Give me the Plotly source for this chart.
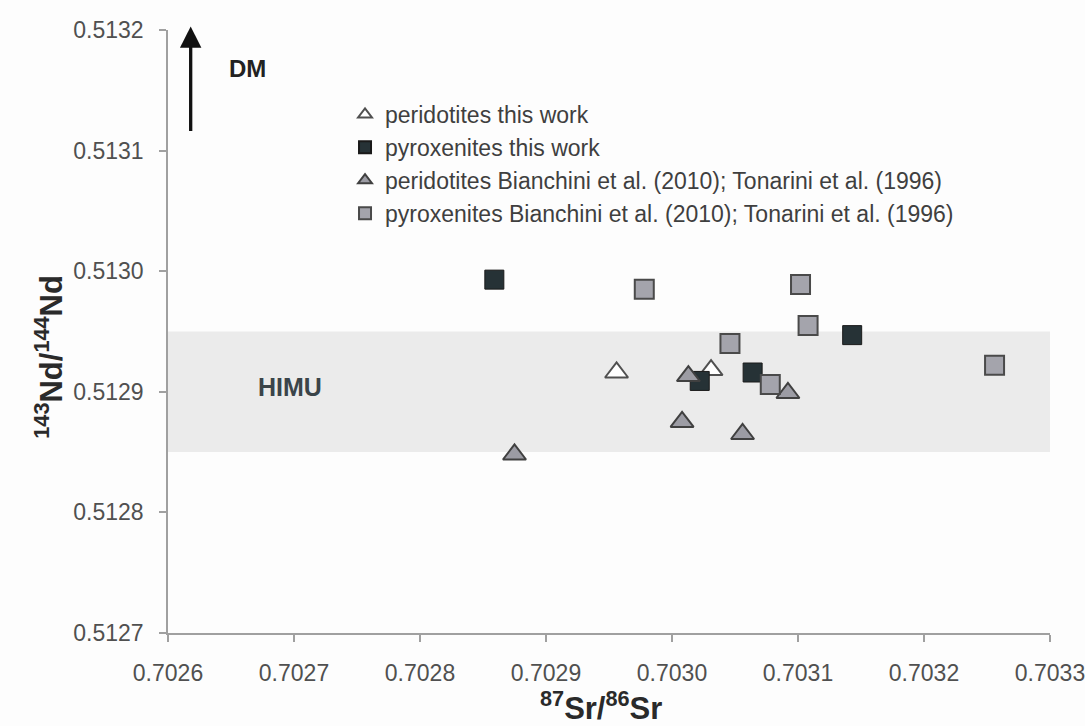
import plotly.graph_objects as go

# peridotites this work (white triangles)
per_tw_x = [0.702956, 0.703031]
per_tw_y = [0.512916, 0.512918]
# pyroxenites this work (black squares)
pyr_tw_x = [0.702859, 0.703143, 0.703022, 0.703064]
pyr_tw_y = [0.512993, 0.512947, 0.512909, 0.512916]
# peridotites literature (grey triangles)
per_lit_x = [0.703013, 0.703008, 0.703056, 0.703092, 0.702875]
per_lit_y = [0.512913, 0.512875, 0.512865, 0.512899, 0.512848]
# pyroxenites literature (grey squares)
pyr_lit_x = [0.702978, 0.703102, 0.703108, 0.703046, 0.703078, 0.703256]
pyr_lit_y = [0.512985, 0.512989, 0.512955, 0.512940, 0.512906, 0.512922]

himu_range = [0.51285, 0.51295]
x_ticks = [0.7026, 0.7027, 0.7028, 0.7029, 0.7030, 0.7031, 0.7032, 0.7033]
y_ticks = [0.5127, 0.5128, 0.5129, 0.5130, 0.5131, 0.5132]

FONT = "Liberation Sans, Arial, sans-serif"

fig = go.Figure()

fig.add_trace(go.Scatter(x=per_tw_x, y=per_tw_y, mode="markers",
    name="peridotites this work",
    marker=dict(symbol="triangle-up", size=20, color="white",
                line=dict(color="#505050", width=2))))
fig.add_trace(go.Scatter(x=pyr_tw_x, y=pyr_tw_y, mode="markers",
    name="pyroxenites this work",
    marker=dict(symbol="square", size=19, color="#263236",
                line=dict(color="#1a1a1a", width=1))))
fig.add_trace(go.Scatter(x=per_lit_x, y=per_lit_y, mode="markers",
    name="peridotites Bianchini et al. (2010); Tonarini et al. (1996)",
    marker=dict(symbol="triangle-up", size=20, color="#9c9ca4",
                line=dict(color="#404040", width=2))))
fig.add_trace(go.Scatter(x=pyr_lit_x, y=pyr_lit_y, mode="markers",
    name="pyroxenites Bianchini et al. (2010); Tonarini et al. (1996)",
    marker=dict(symbol="square", size=19, color="#a4a4ac",
                line=dict(color="#4a4a4a", width=2))))

# HIMU band
fig.add_shape(type="rect", xref="paper", yref="y", x0=0, x1=1,
              y0=himu_range[0], y1=himu_range[1],
              fillcolor="#ebebeb", line=dict(width=0), layer="below")

fig.add_annotation(x=0.702697, y=0.512904, text="<b>HIMU</b>", showarrow=False,
                   font=dict(family=FONT, size=25, color="#3a4449"))

# DM arrow
fig.add_annotation(x=0.702618, y=0.513203, ax=0.702618, ay=0.513115,
                   xref="x", yref="y", axref="x", ayref="y",
                   text="", showarrow=True, arrowhead=2, arrowsize=1.3,
                   arrowwidth=3.3, arrowcolor="#111111")
fig.add_annotation(x=0.702663, y=0.513168, text="<b>DM</b>", showarrow=False,
                   font=dict(family=FONT, size=24, color="#222222"))

# axis titles
fig.add_annotation(xref="paper", yref="paper", x=0.491, y=-0.157,
                   text="<b><sup>87</sup>Sr/<sup>86</sup>Sr</b>", showarrow=False,
                   font=dict(family=FONT, size=31, color="#2a2a2a"))
fig.add_annotation(xref="paper", yref="paper", x=-0.160, y=0.458,
                   text="<b><sup>143</sup>Nd/<sup>144</sup>Nd</b>", showarrow=False,
                   textangle=-90,
                   font=dict(family=FONT, size=31, color="#2a2a2a"))

fig.update_layout(
    width=1085, height=726,
    margin=dict(l=168, r=35, t=30, b=93, autoexpand=False),
    paper_bgcolor="#fdfdfd", plot_bgcolor="#fdfdfd",
    font=dict(family=FONT, color="#444444"),
    legend=dict(x=0.2007, y=0.8955, xanchor="left", yanchor="top",
                bgcolor="rgba(0,0,0,0)", itemsizing="constant",
                font=dict(family=FONT, size=23, color="#3f3f3f"),
                tracegroupgap=0, itemwidth=30),
    showlegend=True,
)
fig.update_xaxes(range=[0.7026, 0.7033], tickvals=x_ticks,
                 ticktext=[f"{v:.4f}" for v in x_ticks],
                 automargin=False,
                 showgrid=False, zeroline=False, showline=True,
                 linecolor="#a0a0a0", linewidth=1.5, ticks="outside",
                 tickcolor="#a0a0a0", ticklen=7, tickwidth=1.5,
                 ticklabelstandoff=12, ticklabeloverflow="allow",
                 tickfont=dict(family=FONT, size=23, color="#505050"))
fig.update_yaxes(range=[0.5127, 0.5132], tickvals=y_ticks,
                 ticktext=[f"{v:.4f}" for v in y_ticks],
                 automargin=False,
                 showgrid=False, zeroline=False, showline=True,
                 linecolor="#a0a0a0", linewidth=1.5, ticks="outside",
                 tickcolor="#a0a0a0", ticklen=7, tickwidth=1.5,
                 ticklabelstandoff=11, ticklabeloverflow="allow",
                 tickfont=dict(family=FONT, size=23, color="#505050"))

fig.write_html("out.html", config={"displayModeBar": False},
               post_script="document.body.style.margin='0';document.body.style.overflow='hidden';")
